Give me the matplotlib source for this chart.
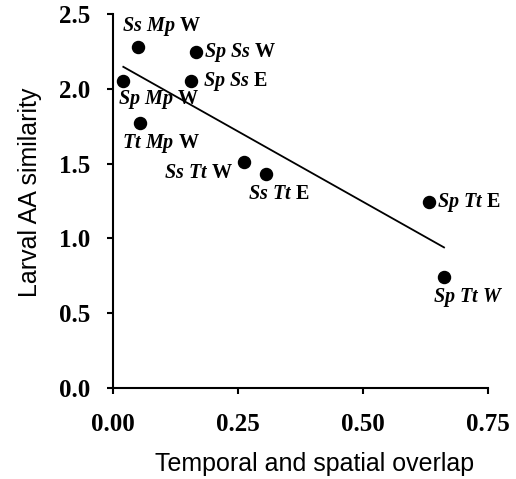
import matplotlib
matplotlib.use('Agg')
import matplotlib.pyplot as plt
import numpy as np

# pair labels, site, and values
pairs = ['Ss Mp', 'Sp Mp', 'Sp Ss', 'Sp Ss', 'Tt Mp', 'Ss Tt', 'Ss Tt', 'Sp Tt', 'Sp Tt']
sites = ['W', 'W', 'W', 'E', 'W', 'W', 'E', 'E', 'W']
overlap = [0.050, 0.020, 0.165, 0.155, 0.054, 0.262, 0.305, 0.632, 0.662]
similarity = [2.28, 2.05, 2.245, 2.05, 1.774, 1.51, 1.43, 1.242, 0.745]
# label offsets in points (dx, dy) and alignment
offsets = [(-12, 15), (-4, -13), (6, 0), (9, 0), (-13, -15), (-8, -8), (-13, -14), (6, 0), (-8, -15)]
aligns = ['left', 'left', 'left', 'left', 'left', 'right', 'left', 'left', 'left']

xticks = [0.00, 0.25, 0.50, 0.75]
yticks = [0.0, 0.5, 1.0, 1.5, 2.0, 2.5]

plt.rcParams['mathtext.fontset'] = 'custom'
plt.rcParams['mathtext.it'] = 'Liberation Serif:italic:bold'
plt.rcParams['mathtext.rm'] = 'Liberation Serif:bold'

fig = plt.figure(figsize=(5.16, 4.79), dpi=100)
ax = fig.add_axes([0.2196, 0.19, 0.7261, 0.7808])

ax.scatter(overlap, similarity, s=75, color='black', zorder=3)

# regression line over the range of the data
x = np.array(overlap)
slope, icpt = np.polyfit(x, similarity, 1)
xl = np.array([x.min(), x.max()])
ax.plot(xl, slope * xl + icpt, color='black', lw=1.3)

for i in range(len(pairs)):
    sp = pairs[i].replace(' ', r'\ ')
    if i == len(pairs) - 1:
        lab = r'$' + sp + r'\ ' + sites[i] + '$'
    else:
        lab = r'$' + sp + '$ ' + sites[i]
    ax.annotate(lab, (overlap[i], similarity[i]), xytext=offsets[i],
                textcoords='offset points', ha=aligns[i], va='center',
                fontsize=14.5, family='Liberation Serif', weight='bold')

ax.set_xlim(0, 0.75)
ax.set_ylim(0, 2.5)
ax.set_xticks(xticks)
ax.set_yticks(yticks)
ax.set_xticklabels(['%.2f' % t for t in xticks], family='Liberation Serif', weight='bold', fontsize=18)
ax.set_yticklabels(['%.1f' % t for t in yticks], family='Liberation Serif', weight='bold', fontsize=18)
ax.tick_params(direction='out', length=4.5, width=1.5)
ax.tick_params(axis='y', pad=12)
ax.tick_params(axis='x', pad=13.5)
for s in ['top', 'right']:
    ax.spines[s].set_visible(False)
for s in ['left', 'bottom']:
    ax.spines[s].set_linewidth(1.5)

ax.set_xlabel('Temporal and spatial overlap', family='Liberation Sans', fontsize=18)
ax.set_ylabel('Larval AA similarity', family='Liberation Sans', fontsize=18)
ax.xaxis.set_label_coords(0.536, -0.17)
ax.yaxis.set_label_coords(-0.19, 0.524)

fig.savefig('out.png', dpi=100)
